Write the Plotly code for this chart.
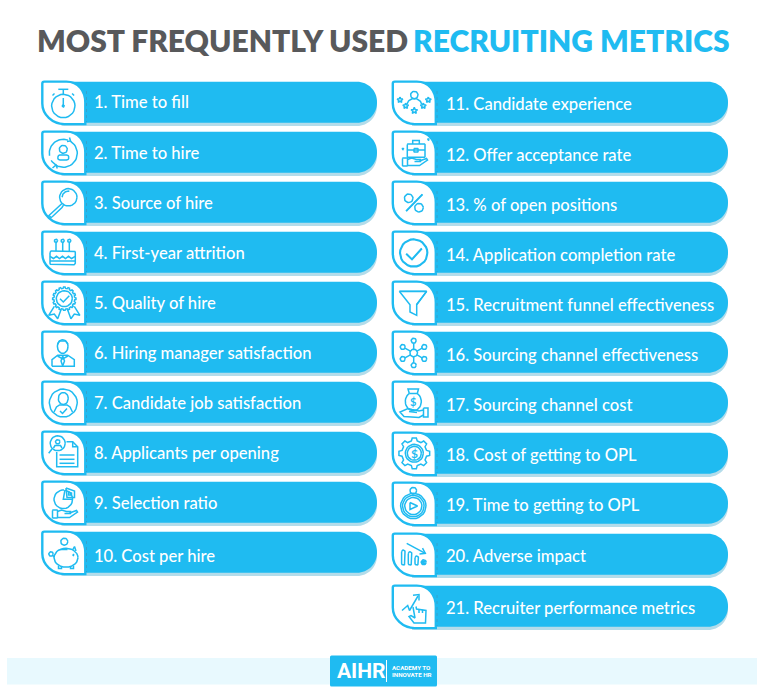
import math
import plotly.graph_objects as go

LEFT_LABELS = ["1. Time to fill", "2. Time to hire", "3. Source of hire", "4. First-year attrition",
               "5. Quality of hire", "6. Hiring manager satisfaction", "7. Candidate job satisfaction",
               "8. Applicants per opening", "9. Selection ratio", "10. Cost per hire"]
RIGHT_LABELS = ["11. Candidate experience", "12. Offer acceptance rate", "13. % of open positions",
                "14. Application completion rate", "15. Recruitment funnel effectiveness",
                "16. Sourcing channel effectiveness", "17. Sourcing channel cost", "18. Cost of getting to OPL",
                "19. Time to getting to OPL", "20. Adverse impact", "21. Recruiter performance metrics"]
TITLE_DARK = "MOST FREQUENTLY USED"
TITLE_BLUE = "RECRUITING METRICS"

# layout of the two columns, in page pixels
LEFT_TOPS = [81, 131, 181, 231, 281, 331, 381, 431, 481, 531]
LEFT_TEXT_Y = [104, 155, 205, 255, 305, 355, 405, 455, 505, 558]
RIGHT_TOPS = [81, 131, 181, 231, 281, 331, 381, 432, 482, 533, 585]
RIGHT_TEXT_Y = [106, 157, 207, 257, 307, 357, 407, 457, 507, 558, 610]
LEFT_X = (41.5, 377)
RIGHT_X = (392, 728)

BLUE = "#1fbbf1"
SHADOW = "#b3dcea"
GREY = "#58595b"


def arc(cx, cy, rx, ry=None, a0=0, a1=360, n=28):
    ry = rx if ry is None else ry
    return [(cx + rx * math.cos(math.radians(a0 + (a1 - a0) * i / n)),
             cy + ry * math.sin(math.radians(a0 + (a1 - a0) * i / n))) for i in range(n + 1)]


def rrect(x0, y0, x1, y1, r):
    return (arc(x0 + r, y0 + r, r, a0=180, a1=270, n=4) + arc(x1 - r, y0 + r, r, a0=270, a1=360, n=4)
            + arc(x1 - r, y1 - r, r, a0=0, a1=90, n=4) + arc(x0 + r, y1 - r, r, a0=90, a1=180, n=4)
            + [(x0, y0 + r)])


def star(cx, cy, r):
    pts = []
    for i in range(11):
        rad = r if i % 2 == 0 else r * 0.45
        a = math.radians(-90 + 36 * i)
        pts.append((cx + rad * math.cos(a), cy + rad * math.sin(a)))
    return pts


def gear(cx, cy, r0, r1, teeth):
    pts = []
    for i in range(teeth):
        step = 360 / teeth
        a = i * step
        for da, rad in [(-0.3, r0), (-0.17, r1), (0.17, r1), (0.3, r0)]:
            t = math.radians(a + da * step)
            pts.append((cx + rad * math.cos(t), cy + rad * math.sin(t)))
    pts.append(pts[0])
    return pts


def hand(x0, y0):
    # open hand with a cuff, used under the case, the pie and the bag
    return [rrect(x0, y0, x0 + 5, y0 + 8, 0.5),
            [(x0 + 5, y0 + 1.5), (x0 + 9, y0), (x0 + 14, y0 + 1.5), (x0 + 18, y0 + 1.5), (x0 + 18, y0 + 3.5),
             (x0 + 12, y0 + 3.5)],
            [(x0 + 17, y0 + 3), (x0 + 24, y0 + 0.5), (x0 + 25, y0 + 2), (x0 + 17, y0 + 7.5), (x0 + 5, y0 + 7.5)]]


# line icons, drawn inside a 44 x 44 box, one entry per row
ICONS = {
    1: [arc(21.8, 25, 11.7), [(16.8, 8.3), (26.8, 8.3)], [(21.8, 8.3), (21.8, 13.3)],
        [(11, 14.5), (13, 12.5)], [(32.6, 14.5), (30.6, 12.5)], [(21.8, 17), (21.8, 25)], arc(21.8, 25, 1)],
    2: [arc(21.8, 22.3, 14, a0=-60, a1=150), arc(21.8, 22.3, 14, a0=170, a1=290),
        [(28, 6.5), (29, 10), (25.5, 10.5)], [(11, 37), (14.5, 34), (15.8, 37.5)],
        arc(21.8, 18.3, 4), rrect(16.3, 24, 27.3, 29, 2.2)],
    3: [arc(26.8, 16.3, 8.7), arc(26.8, 16.3, 6.2, a0=180, a1=280),
        [(20.5, 22.5), (18.5, 24.5), (9, 33), (7.5, 34.5), (9.5, 36.5), (11, 35.5), (20.5, 26.5), (22, 24.2)]],
    4: [rrect(8.5, 20, 33.8, 33.7, 1.5), [(8.5, 25.3), (12, 27.5), (15, 25.3), (18, 27.5), (21, 25.3), (24, 27.5),
                                          (27, 25.3), (30, 27.5), (33.8, 25.3)],
        [(14.5, 12), (14.5, 20)], [(21.2, 12), (21.2, 20)], [(27.8, 12), (27.8, 20)],
        arc(14.5, 9.8, 1.6), arc(21.2, 9.8, 1.6), arc(27.8, 9.8, 1.6), [(8.5, 30), (33.8, 30)]],
    5: [gear(22.8, 17.7, 10.4, 11.7, 16), arc(22.8, 17.7, 8), [(18.5, 17.7), (21.8, 21), (27.8, 14.7)],
        [(12.8, 25.3), (7.2, 34.3), (12.8, 33), (16.2, 37.7), (19.5, 28.7)],
        [(32.8, 25.3), (38.4, 34.3), (32.8, 33), (29.4, 37.7), (26.1, 28.7)]],
    6: [arc(21.2, 15.5, 5.3, 6.8), [(16, 13), (18, 10), (24, 10), (26.5, 13)],
        [(10.5, 35.3), (10.5, 28.7), (16.2, 24.2), (26.2, 24.2), (32.8, 28.7), (32.8, 35.3), (10.5, 35.3)],
        [(21.2, 25), (19.5, 30), (21.2, 35), (23, 30), (21.2, 25)], [(16, 25), (21.2, 28), (26.4, 25)]],
    7: [arc(21.8, 22, 14), arc(21.8, 17.5, 5, 6), [(12.5, 31), (15, 26), (18, 24), (25.5, 24), (28.5, 26), (31, 31)],
        [(18.5, 30), (21, 32.5), (25.5, 27.5)]],
    8: [arc(16.2, 12.3, 7.5), arc(16.2, 10.8, 2.2), [(12, 17), (13.5, 14.5), (19, 14.5), (20.5, 17)],
        [(10.5, 18), (7.2, 22.3)],
        [(15.2, 21), (15.2, 35.7), (36.2, 35.7), (36.2, 15.7), (31.2, 10.7), (25, 10.7)],
        [(31.2, 10.7), (31.2, 15.7), (36.2, 15.7)],
        [(18, 24), (33, 24)], [(18, 28.3), (33, 28.3)], [(18, 32.3), (33, 32.3)]],
    9: [arc(21.8, 18.3, 9.3, a0=-80, a1=275), [(23.4, 9.2), (21.8, 18.3), (31, 18.3)],
        [(24.5, 7), (33, 10), (33, 16.5), (25.5, 16.5), (24.5, 7)], [(27, 11), (30, 12), (30, 14), (27, 14), (27, 11)],
        *hand(11, 29)],
    10: [arc(24.5, 26.7, 12, 9.5), arc(22.8, 10.7, 3.5), [(19, 18.5), (26, 18.5)], [(31, 19), (33, 15.5), (34.5, 20)],
         arc(9.5, 23, 2.2), [(11.5, 24.5), (13, 26)], [(17, 34.5), (17, 37.5), (20, 37.5), (20, 36)],
         [(29, 36), (29, 37.5), (32, 37.5), (32, 34.5)], arc(32, 24, 0.5)],
    11: [arc(22.3, 14, 3.7), arc(22.3, 24.5, 7.5, 7, a0=190, a1=350), star(8, 19, 3), star(13.7, 25, 3),
         star(22.3, 29.7, 3.4), star(31.3, 25, 3), star(36.3, 19, 3)],
    12: [rrect(15.3, 13, 33, 26.3, 0.5), [(20.7, 13), (20.7, 9.5), (27.3, 9.5), (27.3, 13)], [(15.3, 19), (33, 19)],
         rrect(22, 17.5, 26, 21, 0.3), arc(36.5, 8.5, 0.7), arc(11, 18, 0.7), *hand(10.5, 27)],
    13: [[(30.3, 13.3), (14, 30)], [(30.6, 13.6), (14.3, 30.3)], arc(16.7, 17.3, 4.3), arc(27, 26.7, 4.3)],
    14: [arc(21.7, 22, 14), arc(21.7, 22, 13.4), [(14, 23), (20, 28.7), (30, 17.7)], [(14.4, 22.6), (20, 28), (29.6, 17.3)]],
    15: [[(7.3, 10.3), (34.7, 10.3), (24.7, 23.7), (24.7, 34.3), (18, 31), (18, 23.7), (7.3, 10.3)],
         [(7.6, 10.6), (34.4, 10.6), (24.4, 23.7)]],
    16: [arc(21.7, 22, 3.8), arc(21.7, 9.7, 2.5), arc(21.7, 34.3, 2.5), arc(10.7, 16, 2.5), arc(32.3, 16, 2.5),
         arc(10.7, 28, 2.5), arc(32.3, 28, 2.5), [(21.7, 12.2), (21.7, 18.2)], [(21.7, 25.8), (21.7, 31.8)],
         [(12.9, 17.2), (18.4, 20.1)], [(30.1, 17.2), (25, 20.1)], [(12.9, 26.8), (18.4, 23.9)], [(30.1, 26.8), (25, 23.9)]],
    17: [arc(21.3, 20.5, 8, 9.2, a0=-60, a1=240), [(17.3, 12.5), (16, 8), (26.5, 8), (25.3, 12.5), (17.3, 12.5)],
         [(31.5, 27), (31.5, 36), (36, 36), (36, 27), (31.5, 27)],
         [(31.5, 29), (27, 30), (20, 28.5), (16, 27.5), (8, 31), (12, 35.5), (27, 36.5), (31.5, 34)],
         [(17, 30.5), (25, 31.5)]],
    18: [gear(22.3, 21.3, 12.6, 15.5, 8), arc(22.3, 21.3, 9), arc(22.3, 21.3, 7)],
    19: [arc(21.3, 24, 12.7), arc(21.3, 24, 10.8), arc(21.3, 24, 8.6), arc(21.3, 8.7, 3.3), [(21.3, 12), (21.3, 11.3)],
         [(18, 20.5), (25.5, 24), (18, 27.5), (18, 20.5)], [(21.3, 11.3), (21.3, 11.3)]],
    20: [[(14.7, 10.3), (33.3, 20.3)], [(27.5, 21), (33.3, 20.3), (30.5, 15.2)],
         rrect(9.6, 17, 13, 32, 1.7), rrect(16.3, 18.7, 19.7, 32, 1.7), rrect(23, 23, 26.4, 32, 1.7),
         arc(31.7, 29.3, 2.5), arc(31.7, 29.3, 1.5), arc(31.7, 29.3, 0.6)],
    21: [[(10, 25.5), (15.7, 20.5), (17.5, 25.5), (26, 11)], [(21, 10.2), (27, 9.5), (27, 15.5)],
         [(21, 22), (23, 33), (19, 30.5), (17, 31.5), (22, 38), (33.5, 38), (34, 25.5), (29, 24.5), (24.5, 24), (24, 21.5)],
         [(27, 24.5), (27, 28)], [(30.5, 24.8), (30.5, 28)]],
}

fig = go.Figure()
shapes = []
icon_x, icon_y = [], []


def pill_path(x0, x1, y0, y1, r):
    return (f"M{x0},{y0} L{x1 - r},{y0} C{x1 - r * 0.45},{y0} {x1},{y0 + r * 0.45} {x1},{y0 + r} "
            f"L{x1},{y1 - r} C{x1},{y1 - r * 0.45} {x1 - r * 0.45},{y1} {x1 - r},{y1} L{x0},{y1} Z")


def box_path(x0, y0, w, h):
    return (f"M{x0 + 2},{y0} L{x0 + 24},{y0} C{x0 + 36},{y0} {x0 + w},{y0 + 9} {x0 + w},{y0 + 21} "
            f"L{x0 + w},{y0 + h} L{x0 + 22},{y0 + h} C{x0 + 10},{y0 + h} {x0},{y0 + 33} {x0},{y0 + 22} "
            f"L{x0},{y0 + 2} Q{x0},{y0} {x0 + 2},{y0} Z")


row_number = 1
for tops, (x0, x1) in [(LEFT_TOPS, LEFT_X), (RIGHT_TOPS, RIGHT_X)]:
    for top in tops:
        shapes.append(dict(type="path", path=pill_path(x0 + 20, x1, top + 4.5, top + 45, 20),
                           fillcolor=SHADOW, line_width=0, layer="below"))
        shapes.append(dict(type="path", path=pill_path(x0 + 20, x1, top + 0.8, top + 41.8, 20),
                           fillcolor=BLUE, line_width=0, layer="below"))
        shapes.append(dict(type="path", path=box_path(x0 + 0.8, top + 0.6, 43, 42.5),
                           fillcolor="white", line=dict(color=BLUE, width=2.4), layer="below"))
        shapes.append(dict(type="line", x0=x0 + 45, x1=x0 + 45, y0=top + 10, y1=top + 41,
                           line=dict(color="#3a9cc4", width=0.8, dash="dot"), layer="below"))
        for stroke in ICONS[row_number]:
            icon_x += [x0 + p[0] for p in stroke] + [None]
            icon_y += [top + p[1] for p in stroke] + [None]
        row_number += 1

# footer band and logo
shapes.append(dict(type="rect", x0=7, x1=757, y0=658, y1=684.5, fillcolor="#e8f9fe", line_width=0, layer="below"))
shapes.append(dict(type="path", fillcolor=BLUE, line_width=0, layer="below",
                   path="M331.5,655.5 L435.5,655.5 Q437,655.5 437,657 L437,685 Q437,686.5 435.5,686.5 "
                        "L331.5,686.5 Q330,686.5 330,685 L330,657 Q330,655.5 331.5,655.5 Z"))
shapes.append(dict(type="line", x0=386.5, x1=386.5, y0=660, y1=682, line=dict(color="white", width=1), layer="above"))

fig.add_trace(go.Scatter(x=icon_x, y=icon_y, mode="lines", line=dict(color=BLUE, width=1.5),
                         hoverinfo="skip", showlegend=False))

label_font = dict(family="Lato", size=16.6, color="white", weight=500)
fig.add_trace(go.Scatter(x=[LEFT_X[0] + 52.5] * len(LEFT_LABELS), y=LEFT_TEXT_Y,
                         mode="text", text=LEFT_LABELS, textposition="middle right", textfont=label_font,
                         hoverinfo="skip", showlegend=False))
fig.add_trace(go.Scatter(x=[RIGHT_X[0] + 54] * len(RIGHT_LABELS), y=RIGHT_TEXT_Y,
                         mode="text", text=RIGHT_LABELS, textposition="middle right", textfont=label_font,
                         hoverinfo="skip", showlegend=False))

title_font = dict(family="Lato", size=30, weight=800)
logo_small = dict(family="Roboto", size=6.2, color="white", weight=700)
annotations = [
    dict(x=35, y=40, text=TITLE_DARK, xanchor="left", font=dict(color=GREY, **title_font)),
    dict(x=411, y=40, text=TITLE_BLUE, xanchor="left", font=dict(color=BLUE, **title_font)),
    dict(x=335, y=671, text="AIHR", xanchor="left", font=dict(family="Roboto", size=21, color="white", weight=700)),
    dict(x=389.5, y=667.5, text="ACADEMY TO", xanchor="left", font=logo_small),
    dict(x=389.5, y=674.5, text="INNOVATE HR", xanchor="left", font=logo_small),
]
# dollar signs inside the bag and the gear icons
annotations.append(dict(x=RIGHT_X[0] + 21.3, y=RIGHT_TOPS[6] + 20.5, text="$", xanchor="center",
                        font=dict(family="Lato", size=11, color=BLUE, weight=700)))
annotations.append(dict(x=RIGHT_X[0] + 22.3, y=RIGHT_TOPS[7] + 21.3, text="$", xanchor="center",
                        font=dict(family="Lato", size=12, color=BLUE, weight=700)))
for a in annotations:
    a.update(showarrow=False, xref="x", yref="y", yanchor="middle")

fig.update_layout(
    width=784, height=699, margin=dict(l=0, r=0, t=0, b=0),
    paper_bgcolor="white", plot_bgcolor="white", showlegend=False,
    xaxis=dict(range=[0, 784], visible=False, fixedrange=True),
    yaxis=dict(range=[699, 0], visible=False, fixedrange=True),
    shapes=shapes, annotations=annotations,
)
fig.write_html("out.html", config=dict(displayModeBar=False),
               post_script="document.body.style.margin='0';document.body.style.overflow='hidden';")
